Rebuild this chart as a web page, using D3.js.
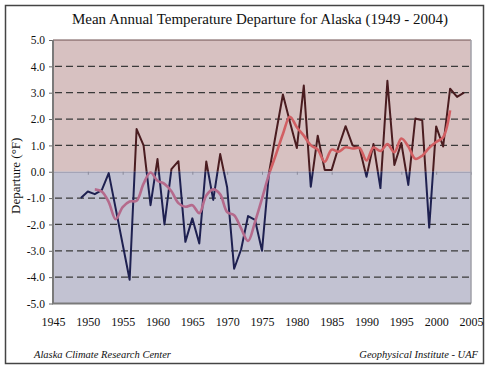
<!DOCTYPE html>
<html>
<head>
<meta charset="utf-8">
<script src="https://cdn.jsdelivr.net/npm/d3@7"></script>
<style>
  body { margin: 0; background: #fff; }
  text { font-family: 'Liberation Serif', 'Times New Roman', serif; fill: #111; }
</style>
</head>
<body>
<div id="chart"></div>
<script>
// Data
const years = [1949,1950,1951,1952,1953,1954,1955,1956,1957,1958,1959,1960,1961,1962,1963,1964,
  1965,1966,1967,1968,1969,1970,1971,1972,1973,1974,1975,1976,1977,1978,1979,1980,1981,1982,
  1983,1984,1985,1986,1987,1988,1989,1990,1991,1992,1993,1994,1995,1996,1997,1998,1999,2000,
  2001,2002,2003,2004]
const departure = [-1.0,-0.75,-0.85,-0.7,-0.05,-1.4,-2.75,-4.1,1.62,1.0,-1.27,0.48,-2.0,0.1,0.4,-2.66,
  -1.77,-2.72,0.39,-1.07,0.67,-0.6,-3.68,-2.95,-1.68,-1.83,-3.0,-0.05,1.45,2.93,1.9,0.9,3.27,-0.57,
  1.37,0.07,0.07,0.95,1.73,1.0,0.9,-0.19,1.05,-0.62,3.45,0.26,1.09,-0.5,2.02,1.95,-2.12,1.72,
  0.96,3.15,2.84,3.0]

// 5-year running mean (pink line)
const meanYears = [1951,1952,1953,1954,1955,1956,1957,1958,1959,1960,1961,1962,1963,1964,1965,
  1966,1967,1968,1969,1970,1971,1972,1973,1974,1975,1976,1977,1978,1979,1980,1981,1982,1983,
  1984,1985,1986,1987,1988,1989,1990,1991,1992,1993,1994,1995,1996,1997,1998,1999,2000,2001,2002]
const runningMean = [-0.67,-0.75,-1.15,-1.8,-1.34,-1.13,-1.1,-0.45,-0.03,-0.34,-0.46,-0.74,-1.19,
  -1.33,-1.27,-1.57,-0.9,-0.67,-0.86,-1.53,-1.65,-2.15,-2.63,-1.9,-1.02,-0.1,0.65,1.43,2.09,1.69,
  1.37,1.01,0.84,0.38,0.84,0.76,0.93,0.88,0.9,0.43,0.92,0.79,1.05,0.74,1.26,0.96,0.49,0.61,0.91,
  1.13,1.31,2.33]

const xTicks = [1945,1950,1955,1960,1965,1970,1975,1980,1985,1990,1995,2000,2005]
const yTicks = [-5,-4,-3,-2,-1,0,1,2,3,4,5]
const gridValues = [-4,-3,-2,-1,1,2,3,4]

function draw(){
    //Dimensions
    let dimensions = {
        width: 489,
        height: 369,
        left: 53,
        right: 471,
        top: 40,
        bottom: 303.5
    }

    // Scales
    const xScale = d3.scaleLinear()
        .domain([1945, 2005])
        .range([dimensions.left, dimensions.right])

    const yScale = d3.scaleLinear()
        .domain([-5, 5])
        .range([dimensions.bottom, dimensions.top])

    const svg = d3.select('#chart')
        .append('svg')
        .attr('width', dimensions.width)
        .attr('height', dimensions.height)

    // outer frame
    svg.append('rect')
        .attr('x', 5.5).attr('y', 5.5)
        .attr('width', 478).attr('height', 358)
        .attr('fill', '#fff')
        .attr('stroke', '#444')
        .attr('stroke-width', 1.5)

    // Title
    svg.append('text')
        .text('Mean Annual Temperature Departure for Alaska (1949 - 2004)')
        .attr('x', 260)
        .attr('y', 24)
        .attr('text-anchor', 'middle')
        .style('font-size', '15px')

    const plotW = dimensions.right - dimensions.left
    const y0 = yScale(0)

    // background bands
    svg.append('rect')
        .attr('x', dimensions.left).attr('y', yScale(5))
        .attr('width', plotW).attr('height', y0 - yScale(5))
        .attr('fill', '#d7c1c1')
    svg.append('rect')
        .attr('x', dimensions.left).attr('y', y0)
        .attr('width', plotW).attr('height', yScale(-5) - y0)
        .attr('fill', '#c2c2d2')

    // clip paths
    const defs = svg.append('defs')
    defs.append('clipPath').attr('id', 'clipAbove')
        .append('rect')
        .attr('x', dimensions.left).attr('y', yScale(5))
        .attr('width', plotW).attr('height', y0 - yScale(5))
    defs.append('clipPath').attr('id', 'clipBelow')
        .append('rect')
        .attr('x', dimensions.left).attr('y', y0)
        .attr('width', plotW).attr('height', yScale(-5) - y0)

    // dashed gridlines
    svg.append('g')
        .selectAll('line')
        .data(gridValues)
        .join('line')
        .attr('x1', dimensions.left + 2)
        .attr('x2', dimensions.right - 2)
        .attr('y1', d => yScale(d))
        .attr('y2', d => yScale(d))
        .attr('stroke', '#3a3a3a')
        .attr('stroke-width', 1.3)
        .attr('stroke-dasharray', '7,4')

    // Y axis
    const yAxis = d3.axisLeft(yScale)
        .tickValues(yTicks)
        .tickSize(4)
        .tickPadding(4)
        .tickFormat(d => d.toFixed(1))
    const yAxisGroup = svg.append('g')
        .attr('transform', `translate(${dimensions.left}, 0)`)
        .call(yAxis)
    yAxisGroup.select('.domain').remove()
    yAxisGroup.selectAll('line').attr('stroke', '#666')
    yAxisGroup.selectAll('text')
        .style('font-size', '11.5px')
        .style('font-family', "'Liberation Serif', serif")
        .attr('fill', '#111')

    svg.append('text')
        .text('Departure (°F)')
        .attr('transform', `translate(20, ${(yScale(5) + yScale(-5)) / 2 + 4}) rotate(-90)`)
        .attr('text-anchor', 'middle')
        .style('font-size', '13px')

    // X axis ticks on the zero line
    const xTickAxis = d3.axisBottom(xScale)
        .tickValues(xTicks.slice(1, -1))
        .tickSize(3)
        .tickFormat('')
    const xTickGroup = svg.append('g')
        .attr('transform', `translate(0, ${y0})`)
        .call(xTickAxis)
    xTickGroup.select('.domain').attr('stroke', '#9a9aae').attr('stroke-width', 1)
    xTickGroup.selectAll('line').attr('stroke', '#8a8a9a')

    // X axis labels below the plot
    const xAxis = d3.axisBottom(xScale)
        .tickValues(xTicks)
        .tickSize(0)
        .tickPadding(14)
        .tickFormat(d3.format('d'))
    const xAxisGroup = svg.append('g')
        .attr('transform', `translate(0, ${dimensions.bottom})`)
        .call(xAxis)
    xAxisGroup.select('.domain').remove()
    xAxisGroup.selectAll('text')
        .style('font-size', '12px')
        .style('font-family', "'Liberation Serif', serif")
        .attr('fill', '#111')

    // Lines
    const series = years.map((yr, i) => ({year: yr, value: departure[i]}))
    const meanSeries = meanYears.map((yr, i) => ({year: yr, value: runningMean[i]}))

    const line = d3.line()
        .x(d => xScale(d.year))
        .y(d => yScale(d.value))
    const smooth = d3.line()
        .x(d => xScale(d.year))
        .y(d => yScale(d.value))
        .curve(d3.curveCatmullRom.alpha(0.5))

    const parts = [
        {clip: 'clipAbove', dark: '#4a1c20', pink: '#d25f63'},
        {clip: 'clipBelow', dark: '#1e2050', pink: '#b56a8c'}
    ]
    parts.forEach(p => {
        const g = svg.append('g').attr('clip-path', `url(#${p.clip})`)
        g.append('path')
            .datum(series)
            .attr('d', line)
            .attr('fill', 'none')
            .attr('stroke', p.dark)
            .attr('stroke-width', 2)
            .attr('stroke-linejoin', 'round')
        g.append('path')
            .datum(meanSeries)
            .attr('d', smooth)
            .attr('fill', 'none')
            .attr('stroke', p.pink)
            .attr('stroke-width', 2.6)
            .attr('stroke-linejoin', 'round')
    })

    // plot frame
    svg.append('line')
        .attr('x1', dimensions.left).attr('x2', dimensions.right)
        .attr('y1', yScale(5)).attr('y2', yScale(5))
        .attr('stroke', '#6e5050').attr('stroke-width', 1)
    svg.append('line')
        .attr('x1', dimensions.right).attr('x2', dimensions.right)
        .attr('y1', yScale(5)).attr('y2', yScale(-5))
        .attr('stroke', '#a0a0a8').attr('stroke-width', 1.5)
    svg.append('path')
        .attr('d', `M${dimensions.left},${yScale(5)}V${yScale(-5)}H${dimensions.right}`)
        .attr('fill', 'none')
        .attr('stroke', '#7a7a7a')
        .attr('stroke-width', 2)

    // Footer
    svg.append('text')
        .text('Alaska Climate Research Center')
        .attr('x', 34).attr('y', 358)
        .style('font-size', '10.5px')
        .style('font-style', 'italic')
    svg.append('text')
        .text('Geophysical Institute - UAF')
        .attr('x', 478).attr('y', 358)
        .attr('text-anchor', 'end')
        .style('font-size', '10.5px')
        .style('font-style', 'italic')
}
draw()
</script>
</body>
</html>
